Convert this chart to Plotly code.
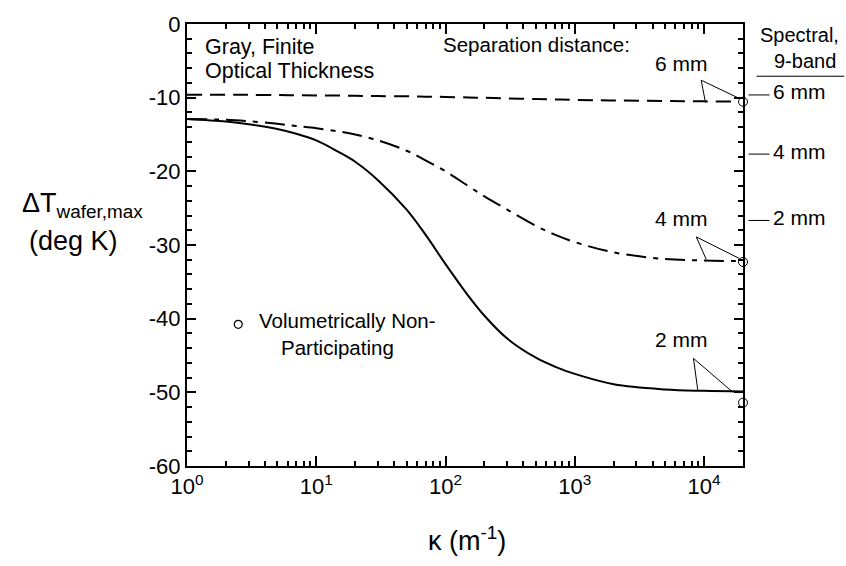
import numpy as np
import plotly.graph_objects as go

FONT = "Liberation Sans, Arial, sans-serif"

# absorption coefficient kappa (1/m)
kappa = [1, 2, 3, 5, 7, 10, 15, 20, 30, 50, 70, 100, 150, 200, 300, 500, 700,
         1000, 2000, 5000, 10000, 20000]

# maximum wafer temperature difference (K), gray medium, by separation distance
dT_6mm = [-9.6, -9.6, -9.62, -9.65, -9.67, -9.7, -9.72, -9.75, -9.78, -9.82, -9.86,
          -9.9, -9.97, -10.02, -10.1, -10.18, -10.24, -10.3, -10.38, -10.46, -10.5, -10.55]
dT_4mm = [-12.9, -13.0, -13.2, -13.55, -13.85, -14.15, -14.6, -15.0, -15.8, -17.2, -18.5,
          -20.0, -22.0, -23.4, -25.2, -27.4, -28.6, -29.6, -31.0, -31.9, -32.1, -32.2]
dT_2mm = [-12.9, -13.25, -13.6, -14.25, -14.9, -15.8, -17.4, -18.7, -21.2, -25.2, -28.6,
          -32.6, -36.9, -39.6, -42.7, -45.3, -46.5, -47.5, -48.9, -49.6, -49.8, -49.9]

# volumetrically non-participating results (at the largest kappa)
nonpart_kappa = 20000
nonpart_dT = [-10.55, -32.3, -51.4]

# spectral, 9-band results
spectral_labels = ["6 mm", "4 mm", "2 mm"]
spectral_dT = [-9.63, -17.66, -26.67]

xtick_vals = [1, 10, 100, 1000, 10000]
xtick_text = ["10<sup>0</sup>", "10<sup>1</sup>", "10<sup>2</sup>", "10<sup>3</sup>", "10<sup>4</sup>"]
ytick_vals = [0, -10, -20, -30, -40, -50, -60]
ytick_text = ["0", "-10", "-20", "-30", "-40", "-50", "-60"]

minor_x = [m * 10 ** d for d in range(0, 5) for m in range(2, 10) if m * 10 ** d < 20000]

fig = go.Figure()

line_style = dict(color="black", width=2)
fig.add_trace(go.Scatter(x=kappa, y=dT_6mm, mode="lines",
                         line=dict(line_style, dash="15px,8px", shape="spline", smoothing=1)))
fig.add_trace(go.Scatter(x=kappa, y=dT_4mm, mode="lines",
                         line=dict(line_style, dash="20px,7px,5px,7px", shape="spline", smoothing=1)))
fig.add_trace(go.Scatter(x=kappa, y=dT_2mm, mode="lines",
                         line=dict(line_style, shape="spline", smoothing=1)))

# callout wedges pointing at each curve end: (apex, foot on curve, foot near circle)
callouts = [
    ([9500, 10250, 18200], [-7.63, -10.66, -10.0]),
    ([8700, 10380, 18800], [-28.9, -31.93, -31.84]),
    ([8280, 8930, 16700], [-45.39, -49.67, -49.99]),
]
for cx, cy in callouts:
    fig.add_trace(go.Scatter(x=[cx[1], cx[0], cx[2]], y=[cy[1], cy[0], cy[2]], mode="lines",
                             line=dict(color="black", width=1)))

fig.add_trace(go.Scatter(x=[nonpart_kappa] * 3, y=nonpart_dT, mode="markers", cliponaxis=False,
                         marker=dict(symbol="circle", size=9, color="white",
                                     line=dict(color="black", width=1))))

# legend marker for the non-participating symbol
fig.add_trace(go.Scatter(x=[10 ** ((238.3 - 187) / 129.4)], y=[-(322.7 - 18) / 7.475], mode="markers",
                         marker=dict(symbol="circle", size=8, color="white",
                                     line=dict(color="black", width=1.2))))

fig.update_xaxes(type="log", range=[0, np.log10(20000)], tickvals=xtick_vals, ticktext=xtick_text,
                 ticks="inside", ticklen=10, tickwidth=1.5, tickcolor="black",
                 minor=dict(tickvals=minor_x, ticks="inside", ticklen=5, tickwidth=1.5, tickcolor="black"),
                 showline=True, linewidth=2, linecolor="black", mirror="allticks",
                 showgrid=False, zeroline=False,
                 tickfont=dict(family=FONT, size=22, color="black"))
fig.update_yaxes(range=[-60, 0], tickvals=ytick_vals, ticktext=ytick_text,
                 ticks="inside", ticklen=9, tickwidth=2, tickcolor="black",
                 minor=dict(dtick=2, ticks="inside", ticklen=5, tickwidth=2, tickcolor="black"),
                 showline=True, linewidth=2, linecolor="black", mirror="allticks",
                 showgrid=False, zeroline=False,
                 tickfont=dict(family=FONT, size=22, color="black"))

W, H = 846, 566
L, R, T, B = 187, 743.5, 18, 466.5
TEXT_SHIFT = 5  # annotation boxes sit a little low relative to the glyphs


def px(x):
    return (x - L) / (R - L)


def py(y):
    return (B - (y - TEXT_SHIFT)) / (B - T)


def text(s, x, y, size=21, xanchor="left"):
    fig.add_annotation(text=s, x=px(x), y=py(y), xref="paper", yref="paper",
                       xanchor=xanchor, yanchor="middle", showarrow=False,
                       font=dict(family=FONT, size=size, color="black"))


text("Gray, Finite", 203, 46, size=21.5)
text("Optical Thickness", 203, 71, size=21.5)
text("Separation distance:", 441, 44, size=20.5)
text("6 mm", 681.5, 63, xanchor="center")
text("4 mm", 681.5, 220, xanchor="center")
text("2 mm", 681.5, 343, xanchor="center")
text("Volumetrically Non-", 257, 324, size=20.5)
text("Participating", 279, 351, size=20.5)
text("Spectral,", 800, 34, size=20, xanchor="center")
text("9-band", 806, 61, size=20, xanchor="center")
fig.add_shape(type="line", xref="paper", yref="paper", x0=px(757), x1=px(845),
              y0=(B - 71) / (B - T), y1=(B - 71) / (B - T), line=dict(color="black", width=1))

for lab, v in zip(spectral_labels, spectral_dT):
    fig.add_shape(type="line", xref="paper", yref="y", x0=px(749), x1=px(770), y0=v, y1=v,
                  line=dict(color="black", width=1))
    fig.add_annotation(text=lab, x=px(772), y=v + 0.4, xref="paper", yref="y", xanchor="left",
                       yanchor="middle", showarrow=False, font=dict(family=FONT, size=21, color="black"))

# axis titles
text("ΔT<sub>wafer,max</sub>", 82, 207, size=27, xanchor="center")
text("(deg K)", 73, 243, size=27, xanchor="center")
text("κ (m<sup>-1</sup>)", 467, 546, size=27, xanchor="center")

fig.update_layout(width=W, height=H, margin=dict(l=L, r=W - R, t=T, b=H - B),
                  plot_bgcolor="white", paper_bgcolor="white", showlegend=False)

fig.write_html("out.html")
